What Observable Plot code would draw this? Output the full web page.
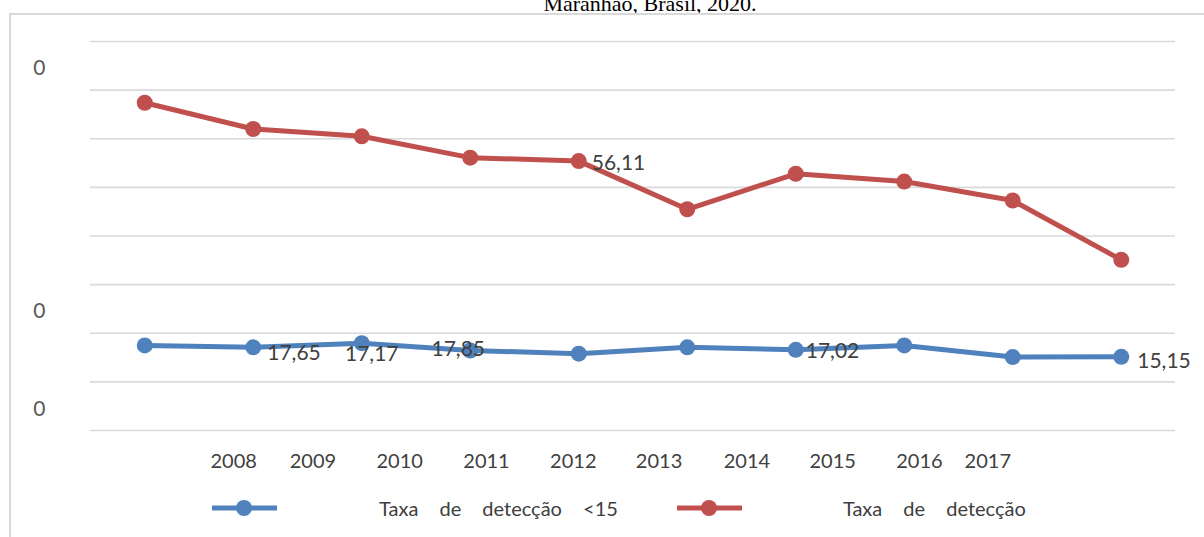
<!DOCTYPE html>
<html><head><meta charset="utf-8">
<script src="https://cdn.jsdelivr.net/npm/d3@7"></script>
<script src="https://cdn.jsdelivr.net/npm/@observablehq/plot@0.6"></script>
<style>
html,body{margin:0;padding:0;background:#fff;}
body{width:1204px;height:537px;overflow:hidden;position:relative;font-family:Lato,"Open Sans",sans-serif;}
#title{position:absolute;left:48px;width:1204px;top:-7px;text-align:center;font-family:"Liberation Serif",serif;font-size:22px;line-height:22px;color:#000;}
#frame{position:absolute;left:9px;top:13px;width:1230px;height:560px;border:2px solid #d9d9d9;box-sizing:border-box;background:#fff;}
#chart{position:absolute;left:0;top:0;}
#legend{position:absolute;left:212px;top:496px;display:flex;align-items:center;font-size:20px;color:#404040;word-spacing:16px;white-space:nowrap;}
#legend svg{display:block}
</style>
</head><body>
<div id="title">Maranhão, Brasil, 2020.</div>
<div id="frame"></div>
<div id="chart"></div>
<div id="legend"></div>
<script>
// ---- data ----
const years = [2008, 2009, 2010, 2011, 2012, 2013, 2014, 2015, 2016, 2017];
const taxaDeteccao = [67.4, 62.0, 60.5, 56.11, 55.4, 45.5, 52.8, 51.2, 47.3, 35.1];
const taxaMenor15 = [17.5, 17.1, 17.95, 16.45, 15.8, 17.1, 16.6, 17.5, 15.1, 15.15];
const yearLabels = ["2008", "2009", "2010", "2011", "2012", "2013", "2014", "2015", "2016", "2017"];
const yearLabelAt = [2008.82, 2009.55, 2010.35, 2011.15, 2011.95, 2012.74, 2013.55, 2014.34, 2015.14, 2015.77];
const gridValues = [0, 10, 20, 30, 40, 50, 60, 70, 80];
const yLabelAt = [80, 30, 10];
const yLabelText = ["0", "0", "0"];
const seriesNames = ["Taxa de detecção <15", "Taxa de detecção"];
const colors = ["#4f81bd", "#c0504d"];

const redLabel = {i: 4, text: "56,11"};
const blueLabels = [
  {i: 1, text: "17,65"},
  {i: 2, text: "17,17"},
  {i: 3, text: "17,85"},
  {i: 6, text: "17,02"},
  {i: 9, text: "15,15"}
];

const redData = years.map((y, i) => ({year: y, v: taxaDeteccao[i]}));
const blueData = years.map((y, i) => ({year: y, v: taxaMenor15[i]}));
const lblFont = {fontSize: 21, fill: "#404040", fontFamily: "Lato, sans-serif"};
const blueText = (k, opts) => Plot.text([blueLabels[k]], {x: d => years[d.i], y: d => taxaMenor15[d.i], text: d => d.text, ...lblFont, ...opts});

const chart = Plot.plot({
  width: 1204,
  height: 480,
  marginLeft: 90,
  marginRight: 29,
  marginTop: 41,
  marginBottom: 50,
  style: {background: "transparent", fontFamily: "Lato, sans-serif"},
  x: {type: "linear", domain: [2007.5, 2017.5], axis: null},
  y: {domain: [0, 80], axis: null},
  marks: [
    Plot.gridY(gridValues, {stroke: "#d9d9d9", strokeOpacity: 1, strokeWidth: 1.6}),
    Plot.text(yLabelAt, {y: d => d, text: (d, i) => yLabelText[i], frameAnchor: "left", textAnchor: "end", dx: -45, dy: 27, fontSize: 21, fill: "#595959"}),
    Plot.text(yearLabels, {x: (d, i) => yearLabelAt[i], text: d => d, frameAnchor: "bottom", dy: 37, fontSize: 20, fill: "#404040"}),
    Plot.line(redData, {x: "year", y: "v", stroke: colors[1], strokeWidth: 5}),
    Plot.dot(redData, {x: "year", y: "v", fill: colors[1], r: 8}),
    Plot.line(blueData, {x: "year", y: "v", stroke: colors[0], strokeWidth: 5}),
    Plot.dot(blueData, {x: "year", y: "v", fill: colors[0], r: 8}),
    Plot.text([redLabel], {x: d => years[d.i], y: d => taxaDeteccao[d.i], text: d => d.text, textAnchor: "start", dx: 13, dy: 2, ...lblFont}),
    blueText(0, {textAnchor: "start", dx: 14, dy: 6}),
    blueText(1, {textAnchor: "middle", dx: 10, dy: 11}),
    blueText(2, {textAnchor: "middle", dx: -12, dy: -1}),
    blueText(3, {textAnchor: "start", dx: 10, dy: 1}),
    blueText(4, {textAnchor: "start", dx: 16, dy: 4})
  ]
});
document.getElementById("chart").appendChild(chart);

// legend
const legend = document.getElementById("legend");
const gaps = [[0, 102], [59, 101]];
seriesNames.forEach((name, k) => {
  const sw = document.createElementNS("http://www.w3.org/2000/svg", "svg");
  sw.setAttribute("width", 65); sw.setAttribute("height", 24);
  sw.style.marginLeft = gaps[k][0] + "px";
  sw.innerHTML = `<line x1="0" x2="65" y1="12" y2="12" stroke="${colors[k]}" stroke-width="5"/><circle cx="32" cy="12" r="8" fill="${colors[k]}"/>`;
  legend.appendChild(sw);
  const sp = document.createElement("span");
  sp.textContent = name;
  sp.style.marginLeft = gaps[k][1] + "px";
  legend.appendChild(sp);
});
</script>
</body></html>
